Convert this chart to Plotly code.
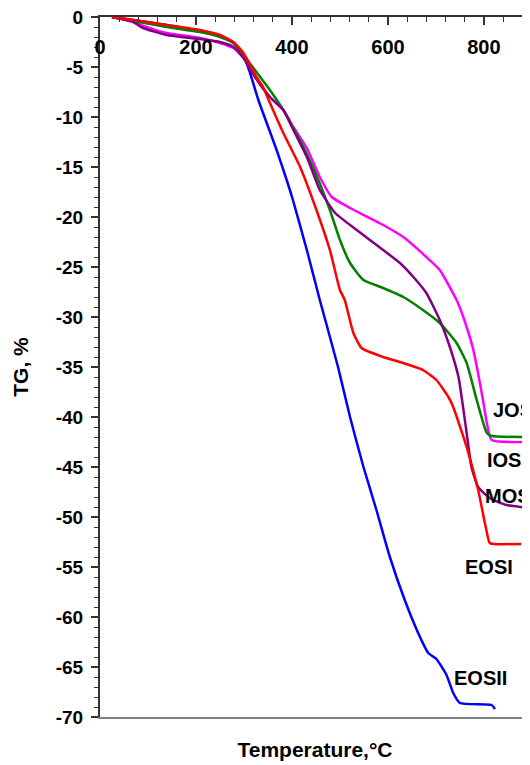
import plotly.graph_objects as go

# ---- data ----
eosi_T = [25, 70, 139, 208, 250, 278, 299, 326, 340, 347, 382, 417, 451, 479, 500, 510, 528, 545, 590, 625, 673, 701, 726, 736, 764, 788, 802, 812, 820, 878]
eosi_TG = [0, -0.3, -0.8, -1.3, -1.8, -2.5, -3.6, -6.0, -7.0, -7.8, -11.6, -15.0, -19.3, -23.3, -27.3, -28.3, -31.6, -33.1, -34.0, -34.5, -35.3, -36.3, -38.0, -39.0, -43.0, -47.3, -50.6, -52.6, -52.7, -52.7]

eosii_T = [25, 70, 139, 208, 250, 278, 299, 312, 330, 368, 389, 402, 431, 458, 496, 521, 549, 576, 604, 635, 663, 684, 701, 722, 736, 750, 816, 823]
eosii_TG = [0, -0.3, -0.8, -1.4, -1.9, -2.6, -3.9, -5.5, -8.3, -13.3, -16.3, -18.3, -23.3, -28.3, -35.0, -40.0, -45.0, -49.3, -54.0, -58.3, -61.6, -63.6, -64.2, -65.8, -67.6, -68.6, -68.8, -69.2]

jos_T = [25, 70, 139, 208, 250, 278, 299, 326, 354, 382, 396, 424, 455, 479, 500, 521, 549, 590, 632, 667, 708, 743, 764, 785, 806, 816, 896]
jos_TG = [0, -0.4, -1.0, -1.5, -2.0, -2.6, -3.8, -5.5, -7.3, -9.3, -10.5, -13.0, -16.3, -19.3, -22.3, -24.6, -26.3, -27.1, -28.0, -29.1, -30.6, -32.6, -34.6, -38.3, -41.6, -41.9, -42.0]

ios_T = [25, 69, 90, 139, 208, 250, 278, 299, 326, 354, 382, 403, 431, 458, 483, 521, 590, 632, 680, 708, 743, 757, 778, 798, 806, 816, 896]
ios_TG = [0, -0.4, -0.9, -1.6, -2.1, -2.6, -3.1, -4.1, -6.2, -8.0, -9.3, -11.0, -13.1, -16.0, -18.0, -19.1, -20.8, -22.0, -24.0, -25.3, -28.3, -30.0, -33.3, -38.3, -40.6, -42.3, -42.5]

mos_T = [25, 69, 90, 139, 208, 250, 278, 299, 326, 354, 382, 403, 431, 444, 458, 490, 535, 590, 625, 653, 680, 708, 729, 747, 764, 774, 788, 812, 847, 896]
mos_TG = [0, -0.5, -1.1, -1.8, -2.2, -2.5, -3.0, -4.1, -6.2, -8.0, -9.3, -11.3, -14.0, -15.6, -17.3, -19.6, -21.3, -23.3, -24.6, -26.0, -27.6, -30.3, -33.0, -36.0, -41.6, -45.0, -47.0, -48.1, -48.8, -49.1]

series_names = ["EOSII", "IOS", "JOS", "MOS", "EOSI"]
series_colors = ["#0000FF", "#FF00FF", "#008000", "#800080", "#FF0000"]
series_T = [eosii_T, ios_T, jos_T, mos_T, eosi_T]
series_TG = [eosii_TG, ios_TG, jos_TG, mos_TG, eosi_TG]

label_text = ["JOS", "IOS", "MOS", "EOSI", "EOSII"]
label_T = [815, 802, 798, 756, 733]
label_TG = [-39.25, -44.25, -47.9, -54.95, -66.1]

x_tickvals = [0, 200, 400, 600, 800]
x_ticktext = ["0", "200", "400", "600", "800"]
y_tickvals = [0, -5, -10, -15, -20, -25, -30, -35, -40, -45, -50, -55, -60, -65, -70]
y_ticktext = ["0", "-5", "-10", "-15", "-20", "-25", "-30", "-35", "-40", "-45", "-50", "-55", "-60", "-65", "-70"]

FONT = "Arial, 'Liberation Sans', sans-serif"
X_RANGE = [0, 896]

fig = go.Figure()
for name, color, T, TG in zip(series_names, series_colors, series_T, series_TG):
    fig.add_trace(go.Scatter(x=T, y=TG, mode="lines", name=name,
                             line=dict(color=color, width=2.5, shape="spline", smoothing=0.5),
                             showlegend=False))

for t, x, y in zip(label_text, label_T, label_TG):
    fig.add_annotation(x=x, y=y, text="<b>%s</b>" % t, showarrow=False,
                       xanchor="left", yanchor="middle",
                       font=dict(family=FONT, size=20, color="black"))

# invisible helper traces so the overlay axes are drawn
fig.add_trace(go.Scatter(x=[0], y=[0], xaxis="x2", mode="markers",
                         marker=dict(opacity=0), showlegend=False, hoverinfo="skip"))
fig.add_trace(go.Scatter(x=[0], y=[0], xaxis="x3", mode="markers",
                         marker=dict(opacity=0), showlegend=False, hoverinfo="skip"))

# page body has an 8px margin, so the figure is sized to fit the window
fig.update_layout(
    width=522, height=757,
    margin=dict(l=92, r=0, t=9, b=48, autoexpand=False),
    paper_bgcolor="white", plot_bgcolor="white",
    font=dict(family=FONT, color="black"),
    xaxis=dict(
        range=X_RANGE, side="top", showgrid=False, zeroline=False, automargin=False,
        showline=True, linecolor="#333333", linewidth=2,
        tickmode="array", tickvals=x_tickvals, showticklabels=False,
        ticks="inside", ticklen=8, tickwidth=1.5, tickcolor="#333333",
        minor=dict(dtick=40, tick0=0, ticks="inside", ticklen=5, tickwidth=1.2, tickcolor="#333333"),
    ),
    xaxis3=dict(
        range=X_RANGE, overlaying="x", side="bottom", anchor="free", position=0.9767,
        showgrid=False, zeroline=False, showline=False, ticks="", automargin=False,
        tickmode="array", tickvals=x_tickvals, ticktext=x_ticktext,
        ticklabeloverflow="allow",
        tickfont=dict(family=FONT, size=20, color="black", weight="bold"),
    ),
    xaxis2=dict(
        range=X_RANGE, overlaying="x", side="bottom", anchor="y", automargin=False,
        showgrid=False, zeroline=False, showticklabels=False, ticks="",
        showline=True, linecolor="#808080", linewidth=2,
        title=dict(text="<b>Temperature,°C</b>", standoff=24,
                   font=dict(family=FONT, size=21, color="black")),
    ),
    yaxis=dict(
        range=[-70, 0], showgrid=False, zeroline=False, automargin=False,
        showline=True, linecolor="#333333", linewidth=2,
        tickmode="array", tickvals=y_tickvals, ticktext=y_ticktext,
        ticks="outside", ticklen=7, tickwidth=1.5, tickcolor="#333333",
        ticklabelstandoff=4, ticklabeloverflow="allow",
        tickfont=dict(family=FONT, size=19, color="black", weight="bold"),
        minor=dict(dtick=1, tick0=0, ticks="outside", ticklen=4, tickwidth=1.2, tickcolor="#333333"),
        title=dict(text="<b>TG, %</b>", standoff=21,
                   font=dict(family=FONT, size=21, color="black")),
    ),
)

fig.write_html("out.html")
